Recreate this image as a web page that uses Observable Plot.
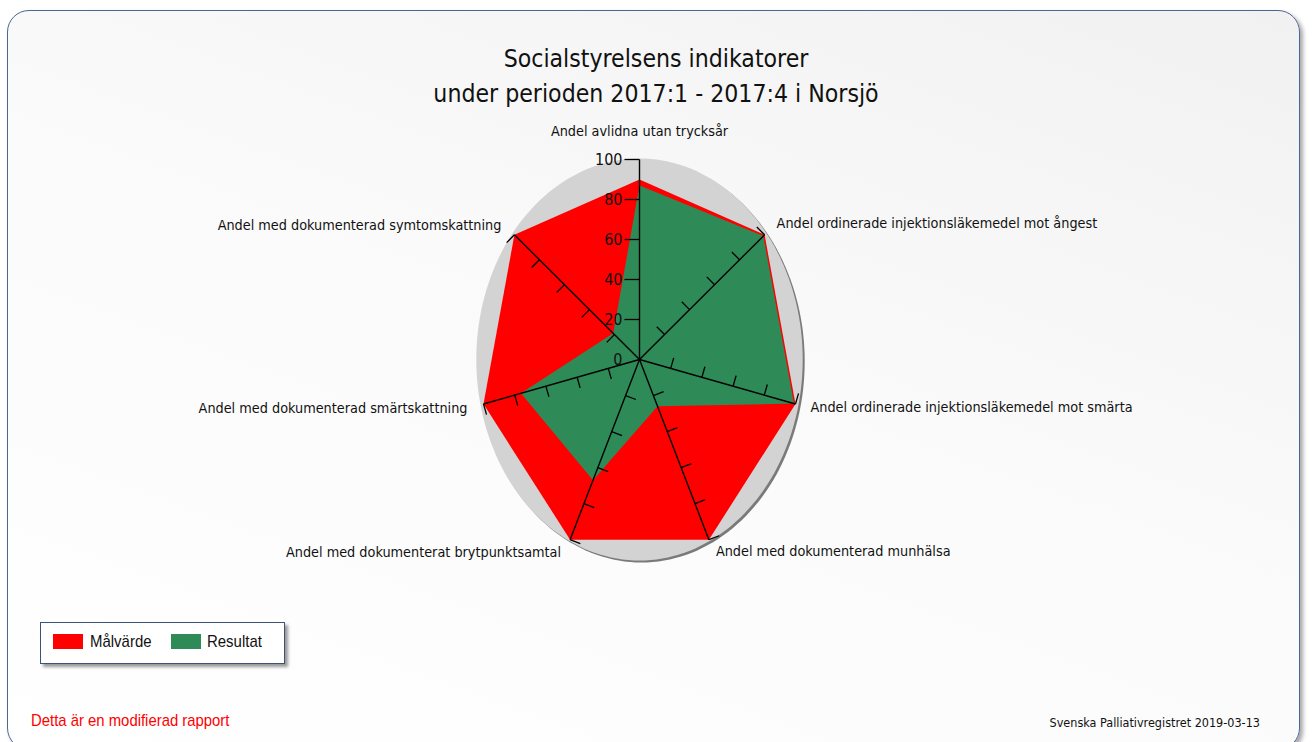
<!DOCTYPE html>
<html>
<head>
<meta charset="utf-8">
<script src="https://cdn.jsdelivr.net/npm/d3@7"></script>
<script src="https://cdn.jsdelivr.net/npm/@observablehq/plot@0.6"></script>
<style>
  html, body { margin: 0; padding: 0; width: 1312px; height: 742px; overflow: hidden; background: #ffffff; }
  #panel {
    position: absolute; left: 7px; top: 10px; width: 1293px; height: 740px;
    border: 1.5px solid #4c6790; border-radius: 22px; box-sizing: border-box;
    box-shadow: 3px 3px 4px rgba(0,0,0,0.35);
    background: linear-gradient(200deg, #f1f1f1 0%, #fafafa 45%, #ffffff 100%);
  }
  #title {
    position: absolute; left: 0; width: 1312px; top: 41px; text-align: center;
    font-family: "DejaVu Sans Condensed", "DejaVu Sans", sans-serif; font-stretch: condensed;
    font-size: 24.6px; line-height: 35px; color: #111;
  }
  #chart { position: absolute; left: 0; top: 118px; }
  #legend {
    position: absolute; left: 40px; top: 622px; width: 245px; height: 42px; box-sizing: border-box;
    border: 1.5px solid #3d5278; background: #fff; box-shadow: 3px 3px 3px rgba(0,0,0,0.4);
    font-family: "Liberation Sans", sans-serif;
    font-size: 17px; color: #111;
  }
  .sw { position: absolute; top: 11px; width: 30px; height: 15px; }
  .lt { position: absolute; top: 9px; line-height: 20px; transform: scaleX(0.88); transform-origin: 0 50%; white-space: nowrap; }
  #mod {
    position: absolute; left: 31px; top: 711px; color: #ff0000;
    font-family: "Liberation Sans", sans-serif;
    font-size: 17px; transform: scaleX(0.875); transform-origin: 0 50%; white-space: nowrap;
  }
  #src {
    position: absolute; right: 52px; top: 715px; color: #111;
    font-family: "DejaVu Sans Condensed", "DejaVu Sans", sans-serif; font-stretch: condensed; font-size: 12.5px;
    white-space: nowrap;
  }
</style>
</head>
<body>
<div id="panel"></div>
<div id="title"></div>
<div id="chart"></div>
<div id="legend"></div>
<div id="mod"></div>
<div id="src"></div>
<script>
// ---- data ----
const titleLines = ["Socialstyrelsens indikatorer", "under perioden 2017:1 - 2017:4 i Norsjö"];
const categories = [
  "Andel avlidna utan trycksår",
  "Andel ordinerade injektionsläkemedel mot ångest",
  "Andel ordinerade injektionsläkemedel mot smärta",
  "Andel med dokumenterad munhälsa",
  "Andel med dokumenterat brytpunktsamtal",
  "Andel med dokumenterad smärtskattning",
  "Andel med dokumenterad symtomskattning"
];
const seriesNames = ["Målvärde", "Resultat"];
const malvarde = [90, 100, 100, 100, 100, 100, 100];
const resultat = [87, 99, 99, 26, 67, 76, 21];
const tickValues = [0, 20, 40, 60, 80, 100];
const tickLabels = ["0", "20", "40", "60", "80", "100"];
const footnote = "Detta är en modifierad rapport";
const sourceText = "Svenska Palliativregistret 2019-03-13";

// ---- layout / style ----
const colors = ["#ff0000", "#2e8b57"];
const W = 1312, H = 480, cx = 639, cy = 241, ry = 200, rx = 160; // px for value 100
const n = categories.length;
const ang = i => i * 2 * Math.PI / n;
const pt = (v, i) => ({x: v * Math.sin(ang(i)), y: v * Math.cos(ang(i))});
const pxX = rx / 100, pxY = ry / 100;

// title
document.getElementById("title").innerHTML = titleLines.map(t => `<div>${t}</div>`).join("");

// polygons
const redPts = malvarde.map((v, i) => pt(v, i));
const greenPts = resultat.map((v, i) => pt(v, i));

// background ellipse
const ell = d3.range(0, 360, 2).map(a => ({x: 102 * Math.sin(a * Math.PI / 180), y: 100.5 * Math.cos(a * Math.PI / 180)}));

// axes
const axes = categories.map((c, i) => ({i, ...pt(100, i)}));

// ticks (perpendicular, counter-clockwise side, in screen space)
const ticks = [];
categories.forEach((c, i) => {
  const sx = pxX * Math.sin(ang(i)), sy = -pxY * Math.cos(ang(i));
  const L = Math.hypot(sx, sy), ux = sx / L, uy = sy / L;
  const len = i === 0 ? 15 : 11;
  const px = uy * len, py = -ux * len; // pixel offset
  tickValues.filter(v => v > 0).forEach(v => {
    const p = pt(v, i);
    ticks.push({x1: p.x, y1: p.y, x2: p.x + px / pxX, y2: p.y - py / pxY});
  });
});

const topLabels = tickValues.map((v, k) => ({x: 0, y: v, label: tickLabels[k]}));

const labelLayout = [
  {dx: 0, dy: -28, anchor: "middle"},
  {dx: 12, dy: -11, anchor: "start"},
  {dx: 15, dy: 3, anchor: "start"},
  {dx: 7, dy: 12, anchor: "start"},
  {dx: -9, dy: 13, anchor: "end"},
  {dx: -16, dy: 4, anchor: "end"},
  {dx: -13, dy: -9, anchor: "end"}
];
const labelMarks = categories.map((c, i) => Plot.text([{...pt(100, i), c}], {
  x: "x", y: "y", text: "c", dx: labelLayout[i].dx, dy: labelLayout[i].dy,
  textAnchor: labelLayout[i].anchor, fontSize: 14.3, fill: "#111"
}));

const chart = Plot.plot({
  width: W, height: H,
  marginTop: 0, marginBottom: 0, marginLeft: 0, marginRight: 0,
  style: {background: "transparent", fontFamily: "'DejaVu Sans Condensed','DejaVu Sans',sans-serif", fontStretch: "condensed", overflow: "visible"},
  x: {domain: [-100, 100], range: [cx - rx, cx + rx], axis: null},
  y: {domain: [-100, 100], range: [cy + ry, cy - ry], axis: null},
  marks: [
    Plot.line(ell, {x: "x", y: "y", curve: "linear-closed", fill: "#7a7a7a", stroke: "none", dx: 2, dy: 2}),
    Plot.line(ell, {x: "x", y: "y", curve: "linear-closed", fill: "#d3d3d3", stroke: "none"}),
    Plot.line(redPts, {x: "x", y: "y", curve: "linear-closed", fill: colors[0], stroke: "none"}),
    Plot.line(greenPts, {x: "x", y: "y", curve: "linear-closed", fill: colors[1], stroke: "none"}),
    Plot.link(axes, {x1: 0, y1: 0, x2: "x", y2: "y", stroke: "#000", strokeWidth: 1.4}),
    Plot.link(ticks, {x1: "x1", y1: "y1", x2: "x2", y2: "y2", stroke: "#000", strokeWidth: 1.3}),
    Plot.text(topLabels, {x: "x", y: "y", text: "label", textAnchor: "end", dx: -17, fontSize: 16, fill: "#111"}),
    ...labelMarks
  ]
});
document.getElementById("chart").appendChild(chart);

// legend
const lg = document.getElementById("legend");
const swX = [12, 130], txX = [49, 166];
seriesNames.forEach((s, k) => {
  const sw = document.createElement("div"); sw.className = "sw";
  sw.style.left = swX[k] + "px"; sw.style.background = colors[k]; lg.appendChild(sw);
  const t = document.createElement("div"); t.className = "lt";
  t.style.left = txX[k] + "px"; t.textContent = s; lg.appendChild(t);
});
document.getElementById("mod").textContent = footnote;
document.getElementById("src").textContent = sourceText;
</script>
</body>
</html>
